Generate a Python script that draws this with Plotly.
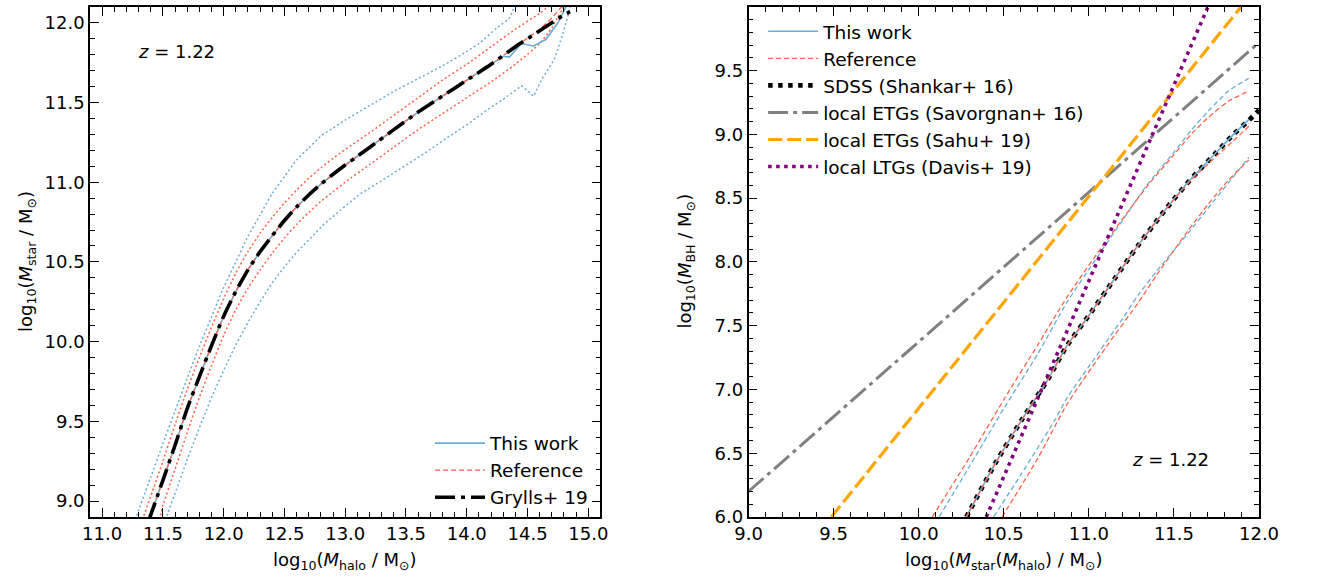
import plotly.graph_objects as go

# ---------------- left panel: stellar mass - halo mass relation ----------------
# Grylls+ 19 median relation
grylls_halo = [11.38, 11.50, 11.60, 11.70, 11.80, 11.90, 12.00, 12.10, 12.20, 12.30, 12.40, 12.50,
               12.60, 12.70, 12.80, 12.90, 13.00, 13.10, 13.20, 13.40, 13.60, 13.80, 14.00, 14.20,
               14.40, 14.60, 14.80, 14.85]
grylls_star = [8.87, 9.13, 9.35, 9.58, 9.78, 9.975, 10.16, 10.315, 10.45, 10.565, 10.665, 10.76,
               10.845, 10.92, 10.988, 11.05, 11.108, 11.163, 11.218, 11.33, 11.44, 11.54, 11.64, 11.74,
               11.85, 11.95, 12.05, 12.07]

# This work: median and scatter bounds
tw_halo = [11.38, 11.50, 11.60, 11.70, 11.80, 11.90, 12.00, 12.10, 12.20, 12.30, 12.40, 12.50,
           12.60, 12.70, 12.80, 12.90, 13.00, 13.10, 13.20, 13.40, 13.60, 13.80, 14.00, 14.20,
           14.30, 14.35, 14.45, 14.55, 14.65, 14.75, 14.83]
tw_star = [8.87, 9.13, 9.35, 9.58, 9.78, 9.975, 10.16, 10.315, 10.45, 10.565, 10.665, 10.76,
           10.845, 10.92, 10.988, 11.05, 11.108, 11.163, 11.218, 11.33, 11.44, 11.54, 11.64, 11.74,
           11.79, 11.785, 11.87, 11.855, 11.895, 12.00, 12.12]

tw_hi_halo = [11.27, 11.40, 11.50, 11.60, 11.70, 11.80, 11.90, 12.00, 12.10, 12.20, 12.30, 12.40,
              12.50, 12.60, 12.70, 12.80, 12.90, 13.00, 13.20, 13.40, 13.60, 13.80, 14.00, 14.10,
              14.25, 14.35, 14.40]
tw_hi_star = [8.88, 9.15, 9.36, 9.565, 9.77, 9.97, 10.155, 10.34, 10.50, 10.66, 10.795, 10.93,
              11.035, 11.14, 11.215, 11.29, 11.34, 11.39, 11.48, 11.57, 11.65, 11.73, 11.82, 11.87,
              11.97, 12.03, 12.12]

tw_lo_halo = [11.52, 11.60, 11.70, 11.80, 11.90, 12.00, 12.10, 12.20, 12.30, 12.40, 12.50, 12.60,
              12.70, 12.83, 13.00, 13.13, 13.30, 13.47, 13.65, 13.84, 14.00, 14.18, 14.30, 14.45,
              14.55, 14.62, 14.72, 14.79, 14.84, 14.86]
tw_lo_star = [8.88, 9.05, 9.26, 9.46, 9.65, 9.82, 9.98, 10.12, 10.25, 10.37, 10.47, 10.56,
              10.64, 10.74, 10.85, 10.93, 11.01, 11.09, 11.18, 11.28, 11.36, 11.46, 11.52, 11.605,
              11.54, 11.65, 11.77, 11.93, 12.08, 12.12]

# Reference: median and scatter bounds
ref_halo = [11.38, 11.50, 11.60, 11.70, 11.80, 11.90, 12.00, 12.10, 12.20, 12.30, 12.40, 12.50,
            12.60, 12.70, 12.80, 12.90, 13.00, 13.10, 13.20, 13.40, 13.60, 13.80, 14.00, 14.20,
            14.40, 14.60, 14.70, 14.80]
ref_star = [8.87, 9.13, 9.35, 9.58, 9.78, 9.975, 10.16, 10.315, 10.45, 10.565, 10.665, 10.76,
            10.845, 10.92, 10.988, 11.05, 11.108, 11.163, 11.218, 11.33, 11.44, 11.54, 11.64, 11.74,
            11.85, 11.96, 12.03, 12.12]

ref_hi_halo = [11.33, 11.40, 11.50, 11.60, 11.70, 11.80, 11.90, 12.00, 12.10, 12.20, 12.30, 12.40,
               12.50, 12.60, 12.70, 12.80, 12.90, 13.00, 13.20, 13.40, 13.60, 13.80, 14.00, 14.20,
               14.40, 14.60, 14.70]
ref_hi_star = [8.88, 9.03, 9.25, 9.48, 9.70, 9.90, 10.09, 10.27, 10.43, 10.565, 10.68, 10.78,
               10.87, 10.95, 11.025, 11.09, 11.15, 11.205, 11.31, 11.42, 11.53, 11.64, 11.74, 11.85,
               11.96, 12.06, 12.12]

ref_lo_halo = [11.47, 11.50, 11.60, 11.70, 11.80, 11.90, 12.00, 12.10, 12.20, 12.30, 12.40, 12.50,
               12.60, 12.70, 12.80, 12.90, 13.00, 13.20, 13.40, 13.60, 13.80, 14.00, 14.20, 14.40,
               14.60, 14.70, 14.81]
ref_lo_star = [8.88, 8.97, 9.20, 9.43, 9.65, 9.85, 10.04, 10.20, 10.335, 10.45, 10.555, 10.65,
               10.735, 10.81, 10.88, 10.94, 11.00, 11.11, 11.22, 11.33, 11.43, 11.53, 11.63, 11.74,
               11.87, 11.97, 12.12]

# ---------------- right panel: black hole mass - stellar mass relation ----------------
sdss_ms = [10.28, 10.45, 10.61, 10.76, 10.87, 11.00, 11.11, 11.29, 11.45, 11.60, 11.75, 11.85, 11.94, 12.00]
sdss_bh = [6.00, 6.42, 6.77, 7.08, 7.34, 7.58, 7.79, 8.13, 8.41, 8.65, 8.86, 9.00, 9.11, 9.19]

bh_tw_ms = [10.28, 10.45, 10.61, 10.76, 10.87, 11.00, 11.11, 11.29, 11.45, 11.60, 11.75, 11.85, 11.94]
bh_tw = [6.00, 6.42, 6.77, 7.08, 7.34, 7.58, 7.79, 8.13, 8.41, 8.65, 8.86, 9.00, 9.116]
bh_ref = [6.00, 6.42, 6.77, 7.08, 7.34, 7.58, 7.79, 8.13, 8.41, 8.64, 8.83, 8.95, 9.064]

bh_tw_hi_ms = [10.12, 10.30, 10.50, 10.70, 10.87, 11.04, 11.20, 11.34, 11.50, 11.60, 11.70, 11.82, 11.94]
bh_tw_hi = [6.00, 6.40, 6.85, 7.28, 7.68, 8.02, 8.33, 8.60, 8.86, 9.03, 9.18, 9.34, 9.44]
bh_ref_hi_ms = [10.08, 10.30, 10.50, 10.70, 10.87, 11.04, 11.20, 11.34, 11.50, 11.60, 11.70, 11.82, 11.94]
bh_ref_hi = [6.00, 6.47, 6.92, 7.35, 7.72, 8.05, 8.34, 8.59, 8.84, 9.00, 9.13, 9.26, 9.34]

bh_tw_lo_ms = [10.44, 10.60, 10.80, 10.87, 11.00, 11.20, 11.29, 11.40, 11.58, 11.70, 11.82, 11.94]
bh_tw_lo = [6.00, 6.33, 6.76, 6.93, 7.18, 7.56, 7.74, 7.93, 8.22, 8.42, 8.62, 8.82]
bh_ref_lo_ms = [10.49, 10.70, 10.87, 11.10, 11.29, 11.40, 11.58, 11.70, 11.82, 11.94]
bh_ref_lo = [6.00, 6.46, 6.88, 7.33, 7.68, 7.90, 8.24, 8.45, 8.64, 8.80]

# local scaling relations
savorgnan_ms = [9.0, 12.0]
savorgnan_bh = [6.2, 9.72]
sahu_ms = [9.487, 11.894]
sahu_bh = [6.0, 10.0]
davis_ms = [10.397, 11.70]
davis_bh = [6.0, 10.0]

BLUE = "#6aaed6"
RED = "tomato"
FONT = "DejaVu Sans"

fig = go.Figure()


def add(x, y, color, width, dash, name=None, legend="legend", xa="x", ya="y", shape="spline", rank=None):
    fig.add_trace(go.Scatter(
        x=x, y=y, mode="lines", xaxis=xa, yaxis=ya,
        line=dict(color=color, width=width, dash=dash, shape=shape, smoothing=0.6),
        name=name if name else "", showlegend=name is not None, legend=legend,
        legendrank=rank if rank is not None else 1000, hoverinfo="skip",
    ))


# left panel
add(tw_hi_halo, tw_hi_star, BLUE, 1.5, "2px,2.5px")
add(tw_lo_halo, tw_lo_star, BLUE, 1.5, "2px,2.5px", shape="linear")
add(ref_hi_halo, ref_hi_star, RED, 1.5, "2px,2.5px")
add(ref_lo_halo, ref_lo_star, RED, 1.5, "2px,2.5px")
add(tw_halo, tw_star, BLUE, 1.6, "solid", "This work", shape="linear", rank=1)
add(ref_halo, ref_star, RED, 1.3, "5px,3px", "Reference", rank=2)
add(grylls_halo, grylls_star, "black", 3.6, "20px,6px,4px,6px", "Grylls+ 19", rank=3)

# right panel
R = dict(legend="legend2", xa="x2", ya="y2")
add(savorgnan_ms, savorgnan_bh, "gray", 3.0, "20px,5px,4px,5px", "local ETGs (Savorgnan+ 16)", shape="linear", rank=4, **R)
add(sahu_ms, sahu_bh, "orange", 3.2, "14px,5px", "local ETGs (Sahu+ 19)", shape="linear", rank=5, **R)
add(sdss_ms, sdss_bh, "black", 4.8, "4.5px,5.5px", "SDSS (Shankar+ 16)", rank=3, **R)
add(bh_tw_hi_ms, bh_tw_hi, BLUE, 1.3, "5px,3px", **R)
add(bh_tw_lo_ms, bh_tw_lo, BLUE, 1.3, "5px,3px", **R)
add(bh_ref_hi_ms, bh_ref_hi, RED, 1.3, "5px,3px", **R)
add(bh_ref_lo_ms, bh_ref_lo, RED, 1.3, "5px,3px", **R)
add(bh_tw_ms, bh_tw, BLUE, 1.6, "solid", "This work", rank=1, **R)
add(bh_tw_ms, bh_ref, RED, 1.3, "5px,3px", "Reference", rank=2, **R)
add(davis_ms, davis_bh, "purple", 3.6, "3.5px,4.5px", "local LTGs (Davis+ 19)", shape="linear", rank=6, **R)

W, H = 1317, 582


def px_x(p):
    return p / W


def px_y(p):
    return 1 - p / H


def axis(rng, t0, domain, anchor):
    return dict(
        range=rng, domain=domain, anchor=anchor, tick0=t0, dtick=0.5, tickformat=".1f",
        showline=True, linecolor="black", linewidth=1.6, mirror="allticks",
        ticks="inside", ticklen=9, tickwidth=1.4, tickcolor="black",
        showgrid=False, zeroline=False,
        tickfont=dict(family=FONT, size=18, color="black"),
        minor=dict(ticks="inside", ticklen=5, tickwidth=1.2, tickcolor="black",
                   tick0=t0, dtick=0.1, showgrid=False),
    )


xd1 = [px_x(78), px_x(602)]
xd2 = [px_x(754), px_x(1278)]
yd = [px_y(526), px_y(7)]

legend_common = dict(bgcolor="rgba(0,0,0,0)", borderwidth=0, xanchor="left", yanchor="top",
                     font=dict(family=FONT, size=18.5, color="black"), itemwidth=50,
                     tracegroupgap=0, traceorder="normal")

fig.update_layout(
    width=W, height=H, margin=dict(l=0, r=0, t=0, b=0),
    paper_bgcolor="white", plot_bgcolor="white",
    font=dict(family=FONT, size=18, color="black"),
    xaxis=axis([10.9, 15.1], 11.0, xd1, "y"),
    yaxis=axis([8.9, 12.1], 9.0, yd, "x"),
    xaxis2=axis([9.0, 12.0], 9.0, xd2, "y2"),
    yaxis2=axis([6.0, 10.0], 6.0, yd, "x2"),
    legend=dict(x=px_x(427), y=px_y(432), **legend_common),
    legend2=dict(x=px_x(769), y=px_y(13), **legend_common),
    showlegend=True,
)

titles = [
    (340, 571, 0, "log<sub>10</sub>(<i>M</i><sub>halo</sub> / M<sub>⊙</sub>)"),
    (1016, 571, 0, "log<sub>10</sub>(<i>M</i><sub>star</sub>(<i>M</i><sub>halo</sub>) / M<sub>⊙</sub>)"),
    (14, 266, -90, "log<sub>10</sub>(<i>M</i><sub>star</sub> / M<sub>⊙</sub>)"),
    (690, 266, -90, "log<sub>10</sub>(<i>M</i><sub>BH</sub> / M<sub>⊙</sub>)"),
    (167, 52, 0, "<i>z</i> = 1.22"),
    (1187, 468, 0, "<i>z</i> = 1.22"),
]
for x, y, ang, txt in titles:
    fig.add_annotation(x=px_x(x), y=px_y(y), xref="paper", yref="paper", text=txt,
                       showarrow=False, textangle=ang, xanchor="center", yanchor="middle",
                       font=dict(family=FONT, size=18, color="black"))

fig.write_html("out.html")
